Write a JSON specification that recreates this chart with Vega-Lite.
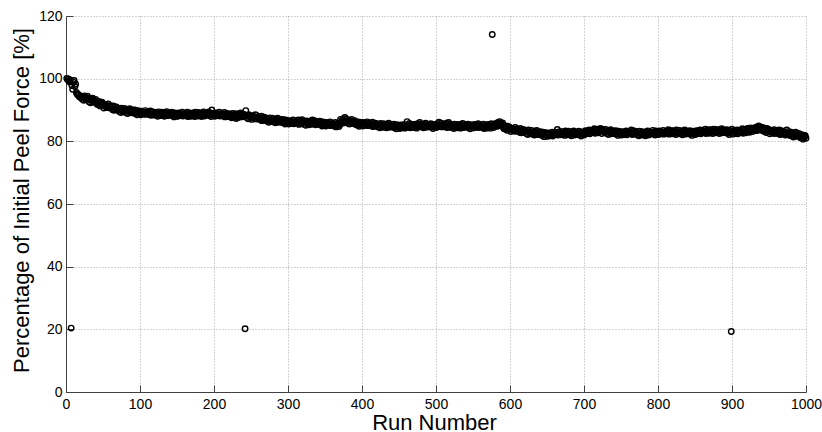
{
"$schema": "https://vega.github.io/schema/vega-lite/v6.json",
"width": 740,
"height": 376,
"autosize": {"type": "none"},
"padding": {"left": 66, "top": 16, "right": 16, "bottom": 40},
"background": "white",
"config": {"view": {"stroke": null}},
"data": {"values": [
{"run":1,"pct":100.1},{"run":2,"pct":99.7},{"run":3,"pct":99.9},{"run":4,"pct":99.2},{"run":5,"pct":98.9},{"run":6,"pct":99.6},{"run":7,"pct":20.4},{"run":8,"pct":97.8},{"run":9,"pct":96.6},{"run":10,"pct":98.9},
{"run":11,"pct":99.4},{"run":12,"pct":97.5},{"run":13,"pct":98.2},{"run":14,"pct":95.6},{"run":15,"pct":95.1},{"run":16,"pct":94.8},{"run":17,"pct":94.9},{"run":18,"pct":94.2},{"run":19,"pct":94.5},{"run":20,"pct":93.9},
{"run":21,"pct":94.3},{"run":22,"pct":93.4},{"run":23,"pct":94.0},{"run":24,"pct":93.1},{"run":25,"pct":94.5},{"run":26,"pct":93.7},{"run":27,"pct":93.9},{"run":28,"pct":93.3},{"run":29,"pct":94.4},{"run":30,"pct":93.8},
{"run":31,"pct":92.6},{"run":32,"pct":93.3},{"run":33,"pct":92.3},{"run":34,"pct":93.5},{"run":35,"pct":92.9},{"run":36,"pct":93.8},{"run":37,"pct":92.5},{"run":38,"pct":93.1},{"run":39,"pct":92.7},{"run":40,"pct":93.4},
{"run":41,"pct":92.2},{"run":42,"pct":91.8},{"run":43,"pct":92.8},{"run":44,"pct":91.7},{"run":45,"pct":92.3},{"run":46,"pct":91.3},{"run":47,"pct":92.6},{"run":48,"pct":92.0},{"run":49,"pct":92.4},{"run":50,"pct":91.6},
{"run":51,"pct":90.6},{"run":52,"pct":91.7},{"run":53,"pct":91.1},{"run":54,"pct":91.5},{"run":55,"pct":90.8},{"run":56,"pct":91.3},{"run":57,"pct":91.9},{"run":58,"pct":90.7},{"run":59,"pct":91.2},{"run":60,"pct":91.4},
{"run":61,"pct":90.8},{"run":62,"pct":90.5},{"run":63,"pct":90.1},{"run":64,"pct":91.3},{"run":65,"pct":89.9},{"run":66,"pct":90.9},{"run":67,"pct":90.3},{"run":68,"pct":91.0},{"run":69,"pct":90.0},{"run":70,"pct":90.6},
{"run":71,"pct":90.4},{"run":72,"pct":89.5},{"run":73,"pct":90.1},{"run":74,"pct":89.2},{"run":75,"pct":90.6},{"run":76,"pct":89.8},{"run":77,"pct":90.0},{"run":78,"pct":89.4},{"run":79,"pct":90.5},{"run":80,"pct":89.9},
{"run":81,"pct":89.2},{"run":82,"pct":89.9},{"run":83,"pct":88.9},{"run":84,"pct":90.1},{"run":85,"pct":89.5},{"run":86,"pct":90.4},{"run":87,"pct":89.1},{"run":88,"pct":89.7},{"run":89,"pct":89.3},{"run":90,"pct":90.0},
{"run":91,"pct":89.4},{"run":92,"pct":89.0},{"run":93,"pct":90.0},{"run":94,"pct":88.9},{"run":95,"pct":89.5},{"run":96,"pct":88.5},{"run":97,"pct":89.8},{"run":98,"pct":89.2},{"run":99,"pct":89.6},{"run":100,"pct":88.8},
{"run":101,"pct":88.5},{"run":102,"pct":89.6},{"run":103,"pct":89.0},{"run":104,"pct":89.4},{"run":105,"pct":88.7},{"run":106,"pct":89.2},{"run":107,"pct":89.8},{"run":108,"pct":88.6},{"run":109,"pct":89.1},{"run":110,"pct":89.3},
{"run":111,"pct":89.2},{"run":112,"pct":88.9},{"run":113,"pct":88.5},{"run":114,"pct":89.7},{"run":115,"pct":88.3},{"run":116,"pct":89.3},{"run":117,"pct":88.7},{"run":118,"pct":89.4},{"run":119,"pct":88.4},{"run":120,"pct":89.0},
{"run":121,"pct":89.2},{"run":122,"pct":88.3},{"run":123,"pct":88.9},{"run":124,"pct":88.0},{"run":125,"pct":89.4},{"run":126,"pct":88.6},{"run":127,"pct":88.8},{"run":128,"pct":88.2},{"run":129,"pct":89.3},{"run":130,"pct":88.7},
{"run":131,"pct":88.3},{"run":132,"pct":89.0},{"run":133,"pct":88.0},{"run":134,"pct":89.2},{"run":135,"pct":88.6},{"run":136,"pct":89.5},{"run":137,"pct":88.2},{"run":138,"pct":88.8},{"run":139,"pct":88.4},{"run":140,"pct":89.1},
{"run":141,"pct":88.7},{"run":142,"pct":88.3},{"run":143,"pct":89.3},{"run":144,"pct":88.2},{"run":145,"pct":88.8},{"run":146,"pct":87.8},{"run":147,"pct":89.1},{"run":148,"pct":88.5},{"run":149,"pct":88.9},{"run":150,"pct":88.1},
{"run":151,"pct":88.0},{"run":152,"pct":89.1},{"run":153,"pct":88.5},{"run":154,"pct":88.9},{"run":155,"pct":88.2},{"run":156,"pct":88.7},{"run":157,"pct":89.3},{"run":158,"pct":88.1},{"run":159,"pct":88.6},{"run":160,"pct":88.8},
{"run":161,"pct":88.8},{"run":162,"pct":88.5},{"run":163,"pct":88.1},{"run":164,"pct":89.3},{"run":165,"pct":87.9},{"run":166,"pct":88.9},{"run":167,"pct":88.3},{"run":168,"pct":89.0},{"run":169,"pct":88.0},{"run":170,"pct":88.6},
{"run":171,"pct":89.1},{"run":172,"pct":88.2},{"run":173,"pct":88.8},{"run":174,"pct":87.9},{"run":175,"pct":89.3},{"run":176,"pct":88.5},{"run":177,"pct":88.7},{"run":178,"pct":88.1},{"run":179,"pct":89.2},{"run":180,"pct":88.6},
{"run":181,"pct":88.2},{"run":182,"pct":88.9},{"run":183,"pct":87.9},{"run":184,"pct":89.1},{"run":185,"pct":88.5},{"run":186,"pct":89.4},{"run":187,"pct":88.1},{"run":188,"pct":88.7},{"run":189,"pct":88.3},{"run":190,"pct":89.0},
{"run":191,"pct":88.8},{"run":192,"pct":88.4},{"run":193,"pct":89.4},{"run":194,"pct":88.3},{"run":195,"pct":88.9},{"run":196,"pct":87.9},{"run":197,"pct":90.0},{"run":198,"pct":88.6},{"run":199,"pct":89.0},{"run":200,"pct":88.2},
{"run":201,"pct":88.0},{"run":202,"pct":89.1},{"run":203,"pct":88.5},{"run":204,"pct":88.9},{"run":205,"pct":88.2},{"run":206,"pct":88.7},{"run":207,"pct":89.3},{"run":208,"pct":88.1},{"run":209,"pct":88.6},{"run":210,"pct":88.8},
{"run":211,"pct":88.7},{"run":212,"pct":88.4},{"run":213,"pct":88.0},{"run":214,"pct":89.2},{"run":215,"pct":87.8},{"run":216,"pct":88.8},{"run":217,"pct":88.2},{"run":218,"pct":88.9},{"run":219,"pct":87.9},{"run":220,"pct":88.5},
{"run":221,"pct":88.7},{"run":222,"pct":87.8},{"run":223,"pct":88.4},{"run":224,"pct":87.5},{"run":225,"pct":88.9},{"run":226,"pct":88.1},{"run":227,"pct":88.3},{"run":228,"pct":87.7},{"run":229,"pct":88.8},{"run":230,"pct":87.3},
{"run":231,"pct":87.9},{"run":232,"pct":88.6},{"run":233,"pct":87.6},{"run":234,"pct":88.8},{"run":235,"pct":88.2},{"run":236,"pct":89.1},{"run":237,"pct":87.8},{"run":238,"pct":88.4},{"run":239,"pct":88.0},{"run":240,"pct":88.7},
{"run":241,"pct":88.1},{"run":242,"pct":20.2},{"run":243,"pct":89.8},{"run":244,"pct":87.6},{"run":245,"pct":88.2},{"run":246,"pct":87.2},{"run":247,"pct":88.5},{"run":248,"pct":87.9},{"run":249,"pct":88.3},{"run":250,"pct":87.5},
{"run":251,"pct":87.0},{"run":252,"pct":88.1},{"run":253,"pct":87.5},{"run":254,"pct":87.9},{"run":255,"pct":87.2},{"run":256,"pct":88.5},{"run":257,"pct":88.3},{"run":258,"pct":87.1},{"run":259,"pct":87.6},{"run":260,"pct":87.8},
{"run":261,"pct":87.5},{"run":262,"pct":87.2},{"run":263,"pct":86.8},{"run":264,"pct":88.0},{"run":265,"pct":86.6},{"run":266,"pct":87.6},{"run":267,"pct":87.0},{"run":268,"pct":87.7},{"run":269,"pct":86.7},{"run":270,"pct":87.3},
{"run":271,"pct":87.3},{"run":272,"pct":86.4},{"run":273,"pct":87.0},{"run":274,"pct":86.1},{"run":275,"pct":87.5},{"run":276,"pct":86.7},{"run":277,"pct":86.9},{"run":278,"pct":86.3},{"run":279,"pct":87.4},{"run":280,"pct":86.8},
{"run":281,"pct":86.2},{"run":282,"pct":86.9},{"run":283,"pct":85.9},{"run":284,"pct":87.1},{"run":285,"pct":86.5},{"run":286,"pct":87.4},{"run":287,"pct":86.1},{"run":288,"pct":86.7},{"run":289,"pct":86.3},{"run":290,"pct":87.0},
{"run":291,"pct":86.4},{"run":292,"pct":86.0},{"run":293,"pct":87.0},{"run":294,"pct":85.9},{"run":295,"pct":86.5},{"run":296,"pct":85.5},{"run":297,"pct":86.8},{"run":298,"pct":86.2},{"run":299,"pct":86.6},{"run":300,"pct":85.8},
{"run":301,"pct":85.5},{"run":302,"pct":86.6},{"run":303,"pct":86.0},{"run":304,"pct":86.4},{"run":305,"pct":85.7},{"run":306,"pct":86.2},{"run":307,"pct":86.8},{"run":308,"pct":85.6},{"run":309,"pct":86.1},{"run":310,"pct":86.3},
{"run":311,"pct":86.3},{"run":312,"pct":86.0},{"run":313,"pct":85.6},{"run":314,"pct":86.8},{"run":315,"pct":85.4},{"run":316,"pct":86.4},{"run":317,"pct":85.8},{"run":318,"pct":86.5},{"run":319,"pct":86.9},{"run":320,"pct":86.1},
{"run":321,"pct":86.3},{"run":322,"pct":85.4},{"run":323,"pct":86.0},{"run":324,"pct":85.1},{"run":325,"pct":86.5},{"run":326,"pct":85.7},{"run":327,"pct":85.9},{"run":328,"pct":85.3},{"run":329,"pct":86.4},{"run":330,"pct":85.8},
{"run":331,"pct":85.4},{"run":332,"pct":86.1},{"run":333,"pct":86.8},{"run":334,"pct":86.3},{"run":335,"pct":85.7},{"run":336,"pct":86.6},{"run":337,"pct":85.3},{"run":338,"pct":85.9},{"run":339,"pct":85.5},{"run":340,"pct":86.2},
{"run":341,"pct":85.8},{"run":342,"pct":85.4},{"run":343,"pct":86.4},{"run":344,"pct":85.3},{"run":345,"pct":85.9},{"run":346,"pct":84.9},{"run":347,"pct":86.2},{"run":348,"pct":85.6},{"run":349,"pct":86.0},{"run":350,"pct":85.2},
{"run":351,"pct":84.9},{"run":352,"pct":86.0},{"run":353,"pct":85.4},{"run":354,"pct":85.8},{"run":355,"pct":85.1},{"run":356,"pct":85.6},{"run":357,"pct":86.2},{"run":358,"pct":85.0},{"run":359,"pct":85.5},{"run":360,"pct":85.7},
{"run":361,"pct":85.5},{"run":362,"pct":85.2},{"run":363,"pct":84.8},{"run":364,"pct":86.0},{"run":365,"pct":84.6},{"run":366,"pct":85.6},{"run":367,"pct":85.0},{"run":368,"pct":85.7},{"run":369,"pct":84.7},{"run":370,"pct":85.3},
{"run":371,"pct":87.0},{"run":372,"pct":86.1},{"run":373,"pct":86.7},{"run":374,"pct":85.8},{"run":375,"pct":87.2},{"run":376,"pct":86.4},{"run":377,"pct":87.6},{"run":378,"pct":86.0},{"run":379,"pct":87.1},{"run":380,"pct":86.5},
{"run":381,"pct":85.8},{"run":382,"pct":86.5},{"run":383,"pct":85.5},{"run":384,"pct":86.7},{"run":385,"pct":86.1},{"run":386,"pct":87.0},{"run":387,"pct":85.7},{"run":388,"pct":86.3},{"run":389,"pct":85.9},{"run":390,"pct":86.6},
{"run":391,"pct":85.7},{"run":392,"pct":85.3},{"run":393,"pct":86.3},{"run":394,"pct":85.2},{"run":395,"pct":85.8},{"run":396,"pct":84.8},{"run":397,"pct":86.1},{"run":398,"pct":85.5},{"run":399,"pct":85.9},{"run":400,"pct":85.1},
{"run":401,"pct":84.9},{"run":402,"pct":86.0},{"run":403,"pct":85.4},{"run":404,"pct":85.8},{"run":405,"pct":85.1},{"run":406,"pct":85.6},{"run":407,"pct":86.2},{"run":408,"pct":85.0},{"run":409,"pct":85.5},{"run":410,"pct":85.7},
{"run":411,"pct":85.6},{"run":412,"pct":85.3},{"run":413,"pct":84.9},{"run":414,"pct":86.1},{"run":415,"pct":84.7},{"run":416,"pct":85.7},{"run":417,"pct":85.1},{"run":418,"pct":85.8},{"run":419,"pct":84.8},{"run":420,"pct":85.4},
{"run":421,"pct":85.5},{"run":422,"pct":84.6},{"run":423,"pct":85.2},{"run":424,"pct":84.3},{"run":425,"pct":85.7},{"run":426,"pct":84.9},{"run":427,"pct":85.1},{"run":428,"pct":84.5},{"run":429,"pct":85.6},{"run":430,"pct":85.0},
{"run":431,"pct":84.6},{"run":432,"pct":85.3},{"run":433,"pct":84.3},{"run":434,"pct":85.5},{"run":435,"pct":84.9},{"run":436,"pct":85.8},{"run":437,"pct":84.5},{"run":438,"pct":85.1},{"run":439,"pct":84.7},{"run":440,"pct":85.4},
{"run":441,"pct":84.9},{"run":442,"pct":84.5},{"run":443,"pct":85.5},{"run":444,"pct":84.4},{"run":445,"pct":85.0},{"run":446,"pct":84.0},{"run":447,"pct":85.3},{"run":448,"pct":84.7},{"run":449,"pct":85.1},{"run":450,"pct":84.3},
{"run":451,"pct":84.1},{"run":452,"pct":85.2},{"run":453,"pct":84.6},{"run":454,"pct":85.0},{"run":455,"pct":84.3},{"run":456,"pct":84.8},{"run":457,"pct":85.4},{"run":458,"pct":84.2},{"run":459,"pct":84.7},{"run":460,"pct":84.9},
{"run":461,"pct":86.3},{"run":462,"pct":84.9},{"run":463,"pct":84.5},{"run":464,"pct":85.7},{"run":465,"pct":84.3},{"run":466,"pct":85.3},{"run":467,"pct":84.7},{"run":468,"pct":85.4},{"run":469,"pct":84.4},{"run":470,"pct":85.0},
{"run":471,"pct":85.4},{"run":472,"pct":84.5},{"run":473,"pct":85.1},{"run":474,"pct":84.2},{"run":475,"pct":85.6},{"run":476,"pct":84.8},{"run":477,"pct":85.0},{"run":478,"pct":86.0},{"run":479,"pct":85.5},{"run":480,"pct":84.9},
{"run":481,"pct":84.6},{"run":482,"pct":85.3},{"run":483,"pct":84.3},{"run":484,"pct":85.5},{"run":485,"pct":84.9},{"run":486,"pct":85.8},{"run":487,"pct":84.5},{"run":488,"pct":85.1},{"run":489,"pct":84.7},{"run":490,"pct":85.4},
{"run":491,"pct":85.0},{"run":492,"pct":84.6},{"run":493,"pct":85.6},{"run":494,"pct":84.5},{"run":495,"pct":85.1},{"run":496,"pct":84.1},{"run":497,"pct":85.4},{"run":498,"pct":84.8},{"run":499,"pct":85.2},{"run":500,"pct":84.4},
{"run":501,"pct":84.5},{"run":502,"pct":85.6},{"run":503,"pct":85.0},{"run":504,"pct":86.1},{"run":505,"pct":84.7},{"run":506,"pct":85.2},{"run":507,"pct":85.8},{"run":508,"pct":84.6},{"run":509,"pct":85.1},{"run":510,"pct":85.3},
{"run":511,"pct":85.3},{"run":512,"pct":85.0},{"run":513,"pct":84.6},{"run":514,"pct":85.8},{"run":515,"pct":84.4},{"run":516,"pct":85.4},{"run":517,"pct":86.0},{"run":518,"pct":85.5},{"run":519,"pct":84.5},{"run":520,"pct":85.1},
{"run":521,"pct":85.3},{"run":522,"pct":84.4},{"run":523,"pct":85.0},{"run":524,"pct":84.1},{"run":525,"pct":85.5},{"run":526,"pct":84.7},{"run":527,"pct":84.9},{"run":528,"pct":84.3},{"run":529,"pct":85.4},{"run":530,"pct":84.8},
{"run":531,"pct":84.5},{"run":532,"pct":85.2},{"run":533,"pct":84.2},{"run":534,"pct":85.4},{"run":535,"pct":84.8},{"run":536,"pct":85.7},{"run":537,"pct":84.4},{"run":538,"pct":85.0},{"run":539,"pct":84.6},{"run":540,"pct":85.3},
{"run":541,"pct":84.9},{"run":542,"pct":84.5},{"run":543,"pct":85.5},{"run":544,"pct":84.4},{"run":545,"pct":85.0},{"run":546,"pct":84.0},{"run":547,"pct":85.3},{"run":548,"pct":84.7},{"run":549,"pct":85.1},{"run":550,"pct":84.3},
{"run":551,"pct":84.3},{"run":552,"pct":85.4},{"run":553,"pct":84.8},{"run":554,"pct":85.2},{"run":555,"pct":84.5},{"run":556,"pct":85.0},{"run":557,"pct":85.6},{"run":558,"pct":84.4},{"run":559,"pct":84.9},{"run":560,"pct":85.1},
{"run":561,"pct":85.0},{"run":562,"pct":84.7},{"run":563,"pct":84.3},{"run":564,"pct":85.5},{"run":565,"pct":84.1},{"run":566,"pct":85.1},{"run":567,"pct":84.5},{"run":568,"pct":85.2},{"run":569,"pct":84.2},{"run":570,"pct":84.8},
{"run":571,"pct":85.4},{"run":572,"pct":84.5},{"run":573,"pct":85.1},{"run":574,"pct":84.2},{"run":575,"pct":85.6},{"run":576,"pct":114.1},{"run":577,"pct":85.0},{"run":578,"pct":84.4},{"run":579,"pct":85.5},{"run":580,"pct":84.9},
{"run":581,"pct":85.1},{"run":582,"pct":85.8},{"run":583,"pct":84.8},{"run":584,"pct":86.0},{"run":585,"pct":85.4},{"run":586,"pct":86.3},{"run":587,"pct":85.0},{"run":588,"pct":85.6},{"run":589,"pct":85.2},{"run":590,"pct":85.9},
{"run":591,"pct":84.4},{"run":592,"pct":84.0},{"run":593,"pct":85.0},{"run":594,"pct":83.9},{"run":595,"pct":84.5},{"run":596,"pct":83.5},{"run":597,"pct":84.8},{"run":598,"pct":84.2},{"run":599,"pct":84.6},{"run":600,"pct":83.8},
{"run":601,"pct":83.1},{"run":602,"pct":84.2},{"run":603,"pct":83.6},{"run":604,"pct":84.0},{"run":605,"pct":83.3},{"run":606,"pct":83.8},{"run":607,"pct":84.4},{"run":608,"pct":83.2},{"run":609,"pct":83.7},{"run":610,"pct":83.9},
{"run":611,"pct":83.6},{"run":612,"pct":83.3},{"run":613,"pct":82.9},{"run":614,"pct":84.1},{"run":615,"pct":82.7},{"run":616,"pct":83.7},{"run":617,"pct":83.1},{"run":618,"pct":83.8},{"run":619,"pct":82.8},{"run":620,"pct":83.4},
{"run":621,"pct":83.4},{"run":622,"pct":82.5},{"run":623,"pct":83.1},{"run":624,"pct":82.2},{"run":625,"pct":83.6},{"run":626,"pct":82.8},{"run":627,"pct":83.0},{"run":628,"pct":82.4},{"run":629,"pct":83.5},{"run":630,"pct":82.9},
{"run":631,"pct":82.3},{"run":632,"pct":83.0},{"run":633,"pct":82.0},{"run":634,"pct":83.2},{"run":635,"pct":82.6},{"run":636,"pct":83.5},{"run":637,"pct":82.2},{"run":638,"pct":82.8},{"run":639,"pct":82.4},{"run":640,"pct":83.1},
{"run":641,"pct":82.4},{"run":642,"pct":82.0},{"run":643,"pct":83.0},{"run":644,"pct":81.9},{"run":645,"pct":82.5},{"run":646,"pct":81.5},{"run":647,"pct":82.8},{"run":648,"pct":82.2},{"run":649,"pct":82.6},{"run":650,"pct":81.8},
{"run":651,"pct":81.6},{"run":652,"pct":82.7},{"run":653,"pct":82.1},{"run":654,"pct":82.5},{"run":655,"pct":81.8},{"run":656,"pct":82.3},{"run":657,"pct":82.9},{"run":658,"pct":81.7},{"run":659,"pct":82.2},{"run":660,"pct":82.4},
{"run":661,"pct":82.9},{"run":662,"pct":82.6},{"run":663,"pct":82.2},{"run":664,"pct":83.8},{"run":665,"pct":82.0},{"run":666,"pct":83.0},{"run":667,"pct":82.4},{"run":668,"pct":83.1},{"run":669,"pct":82.1},{"run":670,"pct":82.7},
{"run":671,"pct":83.1},{"run":672,"pct":82.2},{"run":673,"pct":82.8},{"run":674,"pct":81.9},{"run":675,"pct":83.3},{"run":676,"pct":82.5},{"run":677,"pct":82.7},{"run":678,"pct":82.1},{"run":679,"pct":83.2},{"run":680,"pct":82.6},
{"run":681,"pct":82.1},{"run":682,"pct":82.8},{"run":683,"pct":81.8},{"run":684,"pct":83.0},{"run":685,"pct":82.4},{"run":686,"pct":83.3},{"run":687,"pct":82.0},{"run":688,"pct":82.6},{"run":689,"pct":82.2},{"run":690,"pct":82.9},
{"run":691,"pct":82.6},{"run":692,"pct":82.2},{"run":693,"pct":83.2},{"run":694,"pct":82.1},{"run":695,"pct":82.7},{"run":696,"pct":81.7},{"run":697,"pct":83.0},{"run":698,"pct":82.4},{"run":699,"pct":82.8},{"run":700,"pct":82.0},
{"run":701,"pct":82.3},{"run":702,"pct":83.4},{"run":703,"pct":82.8},{"run":704,"pct":83.2},{"run":705,"pct":82.5},{"run":706,"pct":83.0},{"run":707,"pct":83.6},{"run":708,"pct":82.4},{"run":709,"pct":82.9},{"run":710,"pct":83.1},
{"run":711,"pct":83.5},{"run":712,"pct":83.2},{"run":713,"pct":82.8},{"run":714,"pct":84.0},{"run":715,"pct":82.6},{"run":716,"pct":83.6},{"run":717,"pct":83.0},{"run":718,"pct":83.7},{"run":719,"pct":82.7},{"run":720,"pct":83.3},
{"run":721,"pct":83.7},{"run":722,"pct":84.1},{"run":723,"pct":83.4},{"run":724,"pct":82.5},{"run":725,"pct":83.9},{"run":726,"pct":83.1},{"run":727,"pct":83.3},{"run":728,"pct":82.7},{"run":729,"pct":83.8},{"run":730,"pct":83.2},
{"run":731,"pct":82.5},{"run":732,"pct":83.2},{"run":733,"pct":82.2},{"run":734,"pct":83.4},{"run":735,"pct":82.8},{"run":736,"pct":83.7},{"run":737,"pct":82.4},{"run":738,"pct":83.0},{"run":739,"pct":82.6},{"run":740,"pct":83.3},
{"run":741,"pct":82.8},{"run":742,"pct":82.4},{"run":743,"pct":83.4},{"run":744,"pct":82.3},{"run":745,"pct":82.9},{"run":746,"pct":81.9},{"run":747,"pct":83.2},{"run":748,"pct":82.6},{"run":749,"pct":83.0},{"run":750,"pct":82.2},
{"run":751,"pct":82.0},{"run":752,"pct":83.1},{"run":753,"pct":82.5},{"run":754,"pct":82.9},{"run":755,"pct":82.2},{"run":756,"pct":82.7},{"run":757,"pct":83.3},{"run":758,"pct":82.1},{"run":759,"pct":82.6},{"run":760,"pct":82.8},
{"run":761,"pct":83.1},{"run":762,"pct":82.8},{"run":763,"pct":82.4},{"run":764,"pct":83.6},{"run":765,"pct":82.2},{"run":766,"pct":83.2},{"run":767,"pct":82.6},{"run":768,"pct":83.3},{"run":769,"pct":82.3},{"run":770,"pct":82.9},
{"run":771,"pct":83.0},{"run":772,"pct":82.1},{"run":773,"pct":82.7},{"run":774,"pct":81.8},{"run":775,"pct":83.2},{"run":776,"pct":82.4},{"run":777,"pct":82.6},{"run":778,"pct":82.0},{"run":779,"pct":83.1},{"run":780,"pct":82.5},
{"run":781,"pct":82.1},{"run":782,"pct":82.8},{"run":783,"pct":81.8},{"run":784,"pct":83.0},{"run":785,"pct":82.4},{"run":786,"pct":83.3},{"run":787,"pct":82.0},{"run":788,"pct":82.6},{"run":789,"pct":82.2},{"run":790,"pct":82.9},
{"run":791,"pct":82.9},{"run":792,"pct":82.5},{"run":793,"pct":83.5},{"run":794,"pct":82.4},{"run":795,"pct":83.0},{"run":796,"pct":82.0},{"run":797,"pct":83.3},{"run":798,"pct":82.7},{"run":799,"pct":83.1},{"run":800,"pct":82.3},
{"run":801,"pct":82.2},{"run":802,"pct":83.3},{"run":803,"pct":82.7},{"run":804,"pct":83.1},{"run":805,"pct":82.4},{"run":806,"pct":82.9},{"run":807,"pct":83.5},{"run":808,"pct":82.3},{"run":809,"pct":82.8},{"run":810,"pct":83.0},
{"run":811,"pct":83.2},{"run":812,"pct":82.9},{"run":813,"pct":82.5},{"run":814,"pct":83.7},{"run":815,"pct":82.3},{"run":816,"pct":83.3},{"run":817,"pct":82.7},{"run":818,"pct":83.4},{"run":819,"pct":82.4},{"run":820,"pct":83.0},
{"run":821,"pct":83.4},{"run":822,"pct":82.5},{"run":823,"pct":83.1},{"run":824,"pct":82.2},{"run":825,"pct":83.6},{"run":826,"pct":82.8},{"run":827,"pct":83.0},{"run":828,"pct":82.4},{"run":829,"pct":83.5},{"run":830,"pct":82.9},
{"run":831,"pct":82.4},{"run":832,"pct":83.1},{"run":833,"pct":82.1},{"run":834,"pct":83.3},{"run":835,"pct":82.7},{"run":836,"pct":83.6},{"run":837,"pct":82.3},{"run":838,"pct":82.9},{"run":839,"pct":82.5},{"run":840,"pct":83.2},
{"run":841,"pct":82.8},{"run":842,"pct":82.4},{"run":843,"pct":83.4},{"run":844,"pct":82.3},{"run":845,"pct":82.9},{"run":846,"pct":81.9},{"run":847,"pct":83.2},{"run":848,"pct":82.6},{"run":849,"pct":83.0},{"run":850,"pct":82.2},
{"run":851,"pct":82.3},{"run":852,"pct":83.4},{"run":853,"pct":82.8},{"run":854,"pct":83.2},{"run":855,"pct":82.5},{"run":856,"pct":83.0},{"run":857,"pct":83.6},{"run":858,"pct":82.4},{"run":859,"pct":82.9},{"run":860,"pct":83.1},
{"run":861,"pct":83.4},{"run":862,"pct":83.1},{"run":863,"pct":82.7},{"run":864,"pct":83.9},{"run":865,"pct":82.5},{"run":866,"pct":83.5},{"run":867,"pct":82.9},{"run":868,"pct":83.6},{"run":869,"pct":82.6},{"run":870,"pct":83.2},
{"run":871,"pct":83.7},{"run":872,"pct":82.8},{"run":873,"pct":83.4},{"run":874,"pct":82.5},{"run":875,"pct":83.9},{"run":876,"pct":83.1},{"run":877,"pct":83.3},{"run":878,"pct":82.7},{"run":879,"pct":83.8},{"run":880,"pct":83.2},
{"run":881,"pct":82.8},{"run":882,"pct":83.5},{"run":883,"pct":82.5},{"run":884,"pct":83.7},{"run":885,"pct":83.1},{"run":886,"pct":84.0},{"run":887,"pct":82.7},{"run":888,"pct":83.3},{"run":889,"pct":82.9},{"run":890,"pct":83.6},
{"run":891,"pct":83.1},{"run":892,"pct":82.7},{"run":893,"pct":83.7},{"run":894,"pct":82.6},{"run":895,"pct":83.2},{"run":896,"pct":82.2},{"run":897,"pct":83.5},{"run":898,"pct":82.9},{"run":899,"pct":19.3},{"run":900,"pct":83.9},
{"run":901,"pct":82.3},{"run":902,"pct":83.4},{"run":903,"pct":82.8},{"run":904,"pct":83.2},{"run":905,"pct":82.5},{"run":906,"pct":83.0},{"run":907,"pct":83.6},{"run":908,"pct":82.4},{"run":909,"pct":82.9},{"run":910,"pct":83.1},
{"run":911,"pct":83.5},{"run":912,"pct":83.2},{"run":913,"pct":82.8},{"run":914,"pct":84.0},{"run":915,"pct":82.6},{"run":916,"pct":83.6},{"run":917,"pct":83.0},{"run":918,"pct":83.7},{"run":919,"pct":82.7},{"run":920,"pct":83.3},
{"run":921,"pct":84.1},{"run":922,"pct":83.2},{"run":923,"pct":83.8},{"run":924,"pct":82.9},{"run":925,"pct":84.3},{"run":926,"pct":83.5},{"run":927,"pct":83.7},{"run":928,"pct":83.1},{"run":929,"pct":84.2},{"run":930,"pct":83.6},
{"run":931,"pct":83.7},{"run":932,"pct":84.4},{"run":933,"pct":83.4},{"run":934,"pct":84.6},{"run":935,"pct":84.0},{"run":936,"pct":84.9},{"run":937,"pct":83.6},{"run":938,"pct":84.2},{"run":939,"pct":83.8},{"run":940,"pct":84.5},
{"run":941,"pct":83.7},{"run":942,"pct":83.3},{"run":943,"pct":84.3},{"run":944,"pct":83.2},{"run":945,"pct":83.8},{"run":946,"pct":82.8},{"run":947,"pct":84.1},{"run":948,"pct":83.5},{"run":949,"pct":83.9},{"run":950,"pct":83.1},
{"run":951,"pct":82.4},{"run":952,"pct":83.5},{"run":953,"pct":82.9},{"run":954,"pct":83.3},{"run":955,"pct":82.6},{"run":956,"pct":83.1},{"run":957,"pct":83.7},{"run":958,"pct":82.5},{"run":959,"pct":83.0},{"run":960,"pct":83.2},
{"run":961,"pct":83.1},{"run":962,"pct":82.8},{"run":963,"pct":82.4},{"run":964,"pct":83.6},{"run":965,"pct":82.2},{"run":966,"pct":83.2},{"run":967,"pct":82.6},{"run":968,"pct":83.3},{"run":969,"pct":82.3},{"run":970,"pct":82.9},
{"run":971,"pct":82.9},{"run":972,"pct":82.0},{"run":973,"pct":82.6},{"run":974,"pct":83.6},{"run":975,"pct":83.1},{"run":976,"pct":82.3},{"run":977,"pct":82.5},{"run":978,"pct":81.9},{"run":979,"pct":83.0},{"run":980,"pct":82.4},
{"run":981,"pct":81.7},{"run":982,"pct":82.4},{"run":983,"pct":81.4},{"run":984,"pct":82.6},{"run":985,"pct":82.0},{"run":986,"pct":82.9},{"run":987,"pct":81.6},{"run":988,"pct":82.2},{"run":989,"pct":81.8},{"run":990,"pct":82.5},
{"run":991,"pct":81.6},{"run":992,"pct":81.2},{"run":993,"pct":82.2},{"run":994,"pct":81.1},{"run":995,"pct":81.7},{"run":996,"pct":80.7},{"run":997,"pct":82.0},{"run":998,"pct":81.4},{"run":999,"pct":81.8},{"run":1000,"pct":81.0}
]},
"mark": {"type": "point", "shape": "circle", "filled": false, "stroke": "black", "strokeWidth": 1.4, "size": 30, "opacity": 1},
"encoding": {
  "x": {"field": "run", "type": "quantitative",
        "scale": {"domain": [0, 1000], "nice": false, "zero": false},
        "axis": {"title": "Run Number", "values": [0,100,200,300,400,500,600,700,800,900,1000], "format": "d",
                 "grid": true, "gridColor": "#a8a8a8", "gridDash": [1, 2], "gridWidth": 1,
                 "domainColor": "#404040", "tickColor": "#404040", "tickSize": -7, "labelPadding": 12,
                 "labelFont": "Liberation Sans", "labelFontSize": 14, "labelColor": "black", "labelFlush": false,
                 "titleFont": "Liberation Sans", "titleFontSize": 22, "titleFontWeight": "normal", "titleColor": "black",
                 "titleBaseline": "alphabetic", "titleY": 37, "titleX": 368}},
  "y": {"field": "pct", "type": "quantitative",
        "scale": {"domain": [0, 120], "nice": false},
        "axis": {"title": "Percentage of Initial Peel Force [%]", "values": [0,20,40,60,80,100,120], "format": "d",
                 "grid": true, "gridColor": "#a8a8a8", "gridDash": [1, 2], "gridWidth": 1,
                 "domainColor": "#404040", "tickColor": "#404040", "tickSize": -7, "labelPadding": 11,
                 "labelFont": "Liberation Sans", "labelFontSize": 14, "labelColor": "black", "labelFlush": false,
                 "titleFont": "Liberation Sans", "titleFontSize": 22, "titleFontWeight": "normal", "titleColor": "black",
                 "titleBaseline": "alphabetic", "titleX": -38, "titleY": 184, "titleAngle": -90}}
}
}
